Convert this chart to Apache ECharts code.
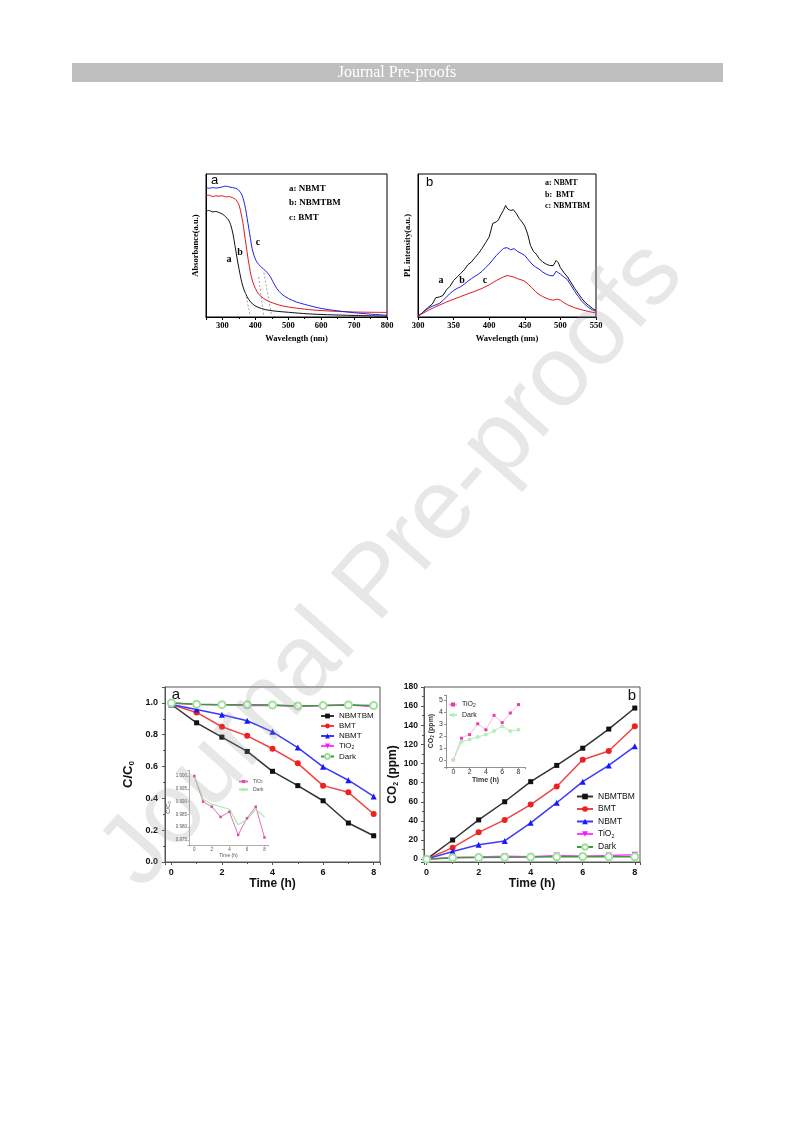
<!DOCTYPE html>
<html><head><meta charset="utf-8">
<script src="https://cdn.jsdelivr.net/npm/echarts@6/dist/echarts.min.js"></script>
<style>html,body{margin:0;padding:0;background:#fff;}#c{width:793px;height:1121px;}</style>
</head><body><div id="c"></div>
<script>
// ---------- DATA ----------
// (a) UV-vis absorbance, [wavelength nm, absorbance a.u.]
const absNBMT = [[250,0.74],[260,0.745],[270,0.735],[280,0.738],[290,0.73],[300,0.72],[310,0.70],[318,0.68],[325,0.645],[332,0.58],[338,0.50],[344,0.415],[350,0.34],[356,0.27],[362,0.215],[370,0.165],[380,0.122],[392,0.09],[406,0.07],[430,0.052],[457,0.042],[500,0.033],[560,0.022],[620,0.016],[700,0.011],[800,0.006]];
const absNBMTBM = [[250,0.848],[260,0.852],[270,0.842],[280,0.847],[290,0.845],[300,0.848],[310,0.84],[320,0.842],[330,0.835],[340,0.822],[347,0.80],[352,0.77],[357,0.72],[362,0.66],[367,0.58],[372,0.50],[377,0.42],[382,0.35],[387,0.29],[393,0.24],[400,0.2],[410,0.16],[425,0.13],[440,0.11],[470,0.085],[500,0.07],[550,0.055],[600,0.045],[700,0.035],[800,0.032]];
const absBMT = [[250,0.906],[260,0.9],[270,0.905],[280,0.902],[290,0.905],[300,0.91],[310,0.915],[320,0.91],[330,0.905],[340,0.9],[348,0.89],[355,0.87],[360,0.85],[365,0.81],[370,0.76],[375,0.69],[380,0.62],[385,0.55],[390,0.48],[396,0.43],[402,0.395],[410,0.368],[420,0.345],[430,0.325],[440,0.30],[447,0.275],[455,0.24],[465,0.2],[480,0.16],[500,0.13],[525,0.105],[550,0.088],[600,0.06],[650,0.043],[700,0.03],[750,0.02],[800,0.012]];
const edgeA = [[370,0.17],[385,0]];
const edgeB = [[410,0.28],[426,0]];
const edgeC = [[426,0.31],[450,0]];
// (b) PL spectra, [wavelength nm, intensity a.u.]
const plNBMT = [[300,0.005],[305,0.025],[310,0.048],[315,0.07],[320,0.09],[325,0.135],[330,0.14],[335,0.15],[340,0.19],[345,0.215],[350,0.255],[355,0.28],[360,0.305],[365,0.33],[370,0.365],[375,0.385],[380,0.415],[385,0.445],[390,0.48],[395,0.52],[400,0.56],[405,0.655],[410,0.665],[413,0.68],[417,0.72],[420,0.745],[423,0.78],[426,0.755],[430,0.745],[434,0.75],[438,0.725],[442,0.69],[446,0.665],[450,0.635],[454,0.58],[458,0.5],[462,0.46],[466,0.44],[470,0.41],[475,0.385],[480,0.37],[485,0.36],[490,0.36],[494,0.395],[497,0.38],[500,0.345],[505,0.31],[510,0.28],[515,0.24],[520,0.2],[525,0.165],[530,0.13],[535,0.1],[540,0.08],[545,0.06],[550,0.045]];
const plBMT = [[300,0.005],[305,0.025],[310,0.045],[315,0.062],[320,0.075],[325,0.085],[330,0.095],[335,0.115],[340,0.14],[345,0.165],[350,0.185],[355,0.2],[360,0.212],[365,0.23],[370,0.25],[375,0.268],[380,0.285],[385,0.3],[390,0.32],[395,0.345],[400,0.37],[405,0.4],[410,0.43],[415,0.455],[420,0.48],[425,0.485],[430,0.47],[435,0.478],[440,0.458],[445,0.445],[450,0.43],[455,0.4],[460,0.37],[465,0.35],[470,0.335],[475,0.315],[480,0.3],[485,0.29],[490,0.288],[494,0.32],[497,0.31],[500,0.3],[505,0.28],[510,0.26],[515,0.22],[520,0.18],[525,0.145],[530,0.11],[535,0.085],[540,0.065],[545,0.05],[550,0.04]];
const plNBMTBM = [[300,0.005],[305,0.02],[310,0.035],[315,0.048],[320,0.06],[325,0.072],[330,0.083],[340,0.105],[350,0.124],[360,0.143],[370,0.162],[380,0.18],[390,0.2],[400,0.225],[405,0.24],[410,0.255],[415,0.268],[420,0.28],[425,0.29],[430,0.285],[435,0.278],[440,0.268],[445,0.26],[450,0.25],[455,0.228],[460,0.205],[465,0.178],[470,0.158],[475,0.143],[480,0.132],[485,0.122],[490,0.118],[495,0.125],[500,0.118],[505,0.1],[510,0.085],[520,0.065],[530,0.05],[540,0.038],[550,0.028]];
// (c) C/C0 vs time
const hours = [0,1,2,3,4,5,6,7,8];
const ccNBMTBM = [0.99,0.875,0.785,0.695,0.57,0.48,0.385,0.245,0.165];
const ccBMT = [0.99,0.94,0.85,0.793,0.712,0.62,0.48,0.438,0.302];
const ccNBMT = [0.99,0.958,0.926,0.888,0.818,0.719,0.598,0.514,0.412];
const ccTiO2 = [1.0,0.990,0.988,0.984,0.986,0.977,0.9835,0.988,0.976];
const ccDark = [1.0,0.991,0.989,0.988,0.987,0.981,0.983,0.987,0.984];
// (d) CO2 (ppm) vs time
const co2NBMTBM = [0,20,41,60,81,98,116,136,158];
const co2BMT = [0,12,28,41,57,76,104,113,139];
const co2NBMT = [0,8,15,19,38,59,81,98,118];
const co2TiO2 = [0,1.8,2.1,3.0,2.5,3.7,3.1,3.9,4.6];
const co2Dark = [0,1.5,1.7,1.9,2.1,2.4,2.8,2.4,2.5];

// ---------- HELPERS ----------
const SANS = 'Liberation Sans, Arial, sans-serif';
const SERIF = 'Liberation Serif, Times New Roman, serif';
const zip = (xs, ys) => xs.map((x, i) => [x, ys[i]]);
const onStep = (step, dec) => v => (Math.abs(v / step - Math.round(v / step)) < 1e-6 ? (dec == null ? String(Math.round(v)) : v.toFixed(dec)) : '');
const legendName = n => { const b = n.split('_')[0]; return b === 'TiO2' ? 'TiO{s|2}' : b; };

function axis(o) {
  return {
    gridIndex: o.grid, type: 'value', min: o.min, max: o.max,
    minInterval: o.step, maxInterval: o.step,
    splitLine: { show: false },
    axisLine: { show: true, onZero: false, lineStyle: { color: o.lc || '#000', width: o.lw || 1 } },
    axisTick: { show: o.tick !== false, length: o.tl || 3, lineStyle: { color: o.lc || '#000', width: o.lw || 1 } },
    minorTick: { show: !!o.minor, splitNumber: 2, length: 2, lineStyle: { color: o.lc || '#000' } },
    axisLabel: { show: o.label !== false, formatter: o.fmt, fontSize: o.fs, fontWeight: o.fw || 'bold', fontFamily: o.ff || SANS, color: o.color || '#111', margin: o.margin == null ? 4 : o.margin },
    name: o.name, nameLocation: 'middle', nameGap: o.gap,
    nameTextStyle: { fontSize: o.nfs, fontWeight: o.nfw || 'bold', fontFamily: o.ff || SANS, color: o.color || '#111', rich: o.rich }
  };
}

const series = [];
function line(name, xi, yi, data, opt) {
  series.push(Object.assign({
    name: name, type: 'line', xAxisIndex: xi, yAxisIndex: yi, data: data,
    showSymbol: false, symbol: 'none', lineStyle: { width: 1 }, animation: false, z: 3
  }, opt));
}

// chart 1
line('absNBMT', 0, 0, absNBMT, { color: '#111', smooth: 0.3 });
line('absNBMTBM', 0, 0, absNBMTBM, { color: '#e01818', smooth: 0.3 });
line('absBMT', 0, 0, absBMT, { color: '#2020e8', smooth: 0.3 });
[edgeA, edgeB, edgeC].forEach((d, i) => line('edge' + i, 0, 0, d, { color: '#888', lineStyle: { width: 0.8, type: [2, 2] } }));
// chart 2
line('plNBMT', 1, 1, plNBMT, { color: '#111' });
line('plBMT', 1, 1, plBMT, { color: '#2020e8' });
line('plNBMTBM', 1, 1, plNBMTBM, { color: '#e01818' });

function kinetic(suffix, xi, yi, arrs, sz) {
  line('NBMTBM_' + suffix, xi, yi, zip(hours, arrs[0]), { showSymbol: true, symbol: 'rect', symbolSize: sz, color: '#111', lineStyle: { width: 1.5, color: '#333' } });
  line('BMT_' + suffix, xi, yi, zip(hours, arrs[1]), { showSymbol: true, symbol: 'circle', symbolSize: sz + 1, color: '#ee2020', lineStyle: { width: 1.5, color: '#ee4444' } });
  line('NBMT_' + suffix, xi, yi, zip(hours, arrs[2]), { showSymbol: true, symbol: 'triangle', symbolSize: sz + 1, color: '#1818ff', lineStyle: { width: 1.5, color: '#3a3aff' } });
  line('TiO2_' + suffix, xi, yi, zip(hours, arrs[3]), { showSymbol: true, symbol: 'triangle', symbolRotate: 180, symbolSize: sz + 1, color: '#ff10ff', lineStyle: { width: 1.5, color: '#ff40ff' } });
  line('Dark_' + suffix, xi, yi, zip(hours, arrs[4]), { showSymbol: true, symbol: 'emptyCircle', symbolSize: sz + 2, color: '#9fe09f', itemStyle: { borderWidth: 1 }, lineStyle: { width: 1.5, color: '#3c9a3c' } });
}
kinetic('3', 2, 2, [ccNBMTBM, ccBMT, ccNBMT, ccTiO2, ccDark], 5);
kinetic('4', 4, 4, [co2NBMTBM, co2BMT, co2NBMT, co2TiO2, co2Dark], 5);
// insets
line('TiO2_3i', 3, 3, zip(hours, ccTiO2), { showSymbol: true, symbol: 'rect', symbolSize: 2.5, color: '#e24aa6', lineStyle: { width: 1, color: '#e070b8' } });
line('Dark_3i', 3, 3, zip(hours, ccDark), { color: '#a6eaa6', lineStyle: { width: 1.2, color: '#a6eaa6' } });
line('TiO2_4i', 5, 5, zip(hours, co2TiO2), { showSymbol: true, symbol: 'rect', symbolSize: 3, color: '#ee3aa8', lineStyle: { width: 0.8, color: '#f6a8d6' } });
line('Dark_4i', 5, 5, zip(hours, co2Dark), { showSymbol: true, symbol: 'circle', symbolSize: 4, color: '#b6eeb6', lineStyle: { width: 1, color: '#b6eeb6' } });

const sub = (fs, pad) => ({ s: { fontSize: fs, fontWeight: 'bold', padding: [pad, 0, 0, 0] } });

const option = {
  animation: false,
  backgroundColor: '#fff',
  grid: [
    { left: 206, top: 174, width: 181, height: 143, show: true, borderColor: '#000', borderWidth: 1 },
    { left: 418, top: 174, width: 178, height: 143, show: true, borderColor: '#000', borderWidth: 1 },
    { left: 165, top: 687, width: 215, height: 175, show: true, borderColor: '#555', borderWidth: 1 },
    { left: 189, top: 770, width: 79, height: 75 },
    { left: 424, top: 687, width: 216, height: 175, show: true, borderColor: '#555', borderWidth: 1 },
    { left: 446, top: 695, width: 79, height: 72 }
  ],
  xAxis: [
    axis({ grid: 0, min: 250, max: 800, step: 100, minor: true, fmt: onStep(100), fs: 8.5, ff: SERIF, color: '#000', margin: 4, name: 'Wavelength (nm)', gap: 17, nfs: 8.5 }),
    axis({ grid: 1, min: 300, max: 550, step: 50, fmt: onStep(50), fs: 8.5, ff: SERIF, color: '#000', margin: 4, name: 'Wavelength (nm)', gap: 17, nfs: 8.5 }),
    axis({ grid: 2, min: -0.25, max: 8.25, step: 2, minor: true, lc: '#555', fmt: onStep(2), fs: 9, margin: 6, name: 'Time (h)', gap: 16, nfs: 12 }),
    axis({ grid: 3, min: -0.6, max: 8.4, step: 2, lc: '#999', lw: 0.8, tl: 1.5, fmt: onStep(2), fs: 4.5, fw: 'normal', color: '#555', margin: 2, name: 'Time (h)', gap: 7, nfs: 5, nfw: 'normal' }),
    axis({ grid: 4, min: -0.1, max: 8.2, step: 2, minor: true, lc: '#555', fmt: onStep(2), fs: 9, margin: 6, name: 'Time (h)', gap: 16, nfs: 12 }),
    axis({ grid: 5, min: -0.9, max: 8.8, step: 2, lc: '#777', lw: 0.8, tl: 2, fmt: onStep(2), fs: 7, fw: 'normal', color: '#333', margin: 2, name: 'Time (h)', gap: 9, nfs: 7, nfw: 'bold' })
  ],
  yAxis: [
    axis({ grid: 0, min: 0, max: 1, step: 0.2, tick: false, label: false, name: 'Absorbance(a.u.)', gap: 6, nfs: 8.5, ff: SERIF, color: '#000' }),
    axis({ grid: 1, min: 0, max: 1, step: 0.2, tick: false, label: false, name: 'PL intensity(a.u.)', gap: 6, nfs: 8.5, ff: SERIF, color: '#000' }),
    axis({ grid: 2, min: 0, max: 1.1, step: 0.2, minor: true, lc: '#555', fmt: onStep(0.2, 1), fs: 9, margin: 7, name: 'C/C{s|0}', gap: 29, nfs: 13, rich: sub(8, 8) }),
    axis({ grid: 3, min: 0.97305, max: 1.00234, step: 0.005, lc: '#999', lw: 0.8, tl: 1.5, fmt: onStep(0.005, 3), fs: 4.5, fw: 'normal', color: '#555', margin: 2, name: 'C/C{s|0}', gap: 13, nfs: 6, nfw: 'normal', rich: { s: { fontSize: 4, padding: [3, 0, 0, 0] } } }),
    axis({ grid: 4, min: -3, max: 180, step: 20, minor: true, lc: '#555', fmt: onStep(20), fs: 8.5, margin: 6, name: 'CO{s|2} (ppm)', gap: 20, nfs: 12, rich: sub(7, 7) }),
    axis({ grid: 5, min: -0.6, max: 5.4, step: 1, lc: '#777', lw: 0.8, tl: 2, fmt: onStep(1), fs: 7, fw: 'normal', color: '#333', margin: 3, name: 'CO{s|2} (ppm)', gap: 8, nfs: 7, nfw: 'bold', rich: { s: { fontSize: 4.5, padding: [4, 0, 0, 0] } } })
  ],
  legend: [
    { data: ['NBMTBM_3', 'BMT_3', 'NBMT_3', 'TiO2_3', 'Dark_3'], orient: 'vertical', left: 320, top: 712, padding: 0, itemWidth: 13, itemHeight: 6, itemGap: 2, formatter: legendName, selectedMode: false,
      textStyle: { fontSize: 8, fontFamily: SANS, color: '#111', rich: { s: { fontSize: 5, padding: [4, 0, 0, 0] } } } },
    { data: ['NBMTBM_4', 'BMT_4', 'NBMT_4', 'TiO2_4', 'Dark_4'], orient: 'vertical', left: 576, top: 792, padding: 0, itemWidth: 16, itemHeight: 7, itemGap: 3.5, formatter: legendName, selectedMode: false,
      textStyle: { fontSize: 8.5, fontFamily: SANS, color: '#111', rich: { s: { fontSize: 5.5, padding: [4, 0, 0, 0] } } } },
    { data: ['TiO2_3i', 'Dark_3i'], orient: 'vertical', left: 238, top: 779, padding: 0, itemWidth: 9, itemHeight: 4, itemGap: 2.5, formatter: legendName, selectedMode: false,
      textStyle: { fontSize: 5, fontFamily: SANS, color: '#555', rich: { s: { fontSize: 3.5, padding: [2, 0, 0, 0] } } } },
    { data: ['TiO2_4i', 'Dark_4i'], orient: 'vertical', left: 448, top: 701, padding: 0, itemWidth: 8, itemHeight: 5, itemGap: 3, formatter: legendName, selectedMode: false,
      textStyle: { fontSize: 7, fontFamily: SANS, color: '#222', rich: { s: { fontSize: 5, padding: [3, 0, 0, 0] } } } }
  ],
  series: series,
  graphic: { elements: [
    { type: 'rect', shape: { x: 72, y: 63, width: 651, height: 19 }, style: { fill: '#bfbfbf' }, z: 1 },
    { type: 'text', x: 397, y: 72.5, style: { text: 'Journal Pre-proofs', fontSize: 16, fontFamily: SERIF, fill: '#fff', align: 'center', verticalAlign: 'middle' }, z: 2 },
    // panel (a) texts
    { type: 'text', x: 211, y: 180, style: { text: 'a', fontSize: 13, fontFamily: SANS, fill: '#000', align: 'left', verticalAlign: 'middle' } },
    { type: 'text', x: 289, y: 189, style: { text: 'a: NBMT', fontSize: 9, fontWeight: 'bold', fontFamily: SERIF, fill: '#000', align: 'left', verticalAlign: 'middle' } },
    { type: 'text', x: 289, y: 203, style: { text: 'b: NBMTBM', fontSize: 9, fontWeight: 'bold', fontFamily: SERIF, fill: '#000', align: 'left', verticalAlign: 'middle' } },
    { type: 'text', x: 289, y: 218, style: { text: 'c: BMT', fontSize: 9, fontWeight: 'bold', fontFamily: SERIF, fill: '#000', align: 'left', verticalAlign: 'middle' } },
    { type: 'text', x: 229, y: 259, style: { text: 'a', fontSize: 10, fontWeight: 'bold', fontFamily: SERIF, fill: '#000', align: 'center', verticalAlign: 'middle' } },
    { type: 'text', x: 240, y: 252, style: { text: 'b', fontSize: 10, fontWeight: 'bold', fontFamily: SERIF, fill: '#000', align: 'center', verticalAlign: 'middle' } },
    { type: 'text', x: 258, y: 242, style: { text: 'c', fontSize: 10, fontWeight: 'bold', fontFamily: SERIF, fill: '#000', align: 'center', verticalAlign: 'middle' } },
    // panel (b) texts
    { type: 'text', x: 426, y: 182, style: { text: 'b', fontSize: 13, fontFamily: SANS, fill: '#000', align: 'left', verticalAlign: 'middle' } },
    { type: 'text', x: 545, y: 183, style: { text: 'a: NBMT', fontSize: 8, fontWeight: 'bold', fontFamily: SERIF, fill: '#000', align: 'left', verticalAlign: 'middle' } },
    { type: 'text', x: 545, y: 194.5, style: { text: 'b:  BMT', fontSize: 8, fontWeight: 'bold', fontFamily: SERIF, fill: '#000', align: 'left', verticalAlign: 'middle' } },
    { type: 'text', x: 545, y: 206, style: { text: 'c: NBMTBM', fontSize: 8, fontWeight: 'bold', fontFamily: SERIF, fill: '#000', align: 'left', verticalAlign: 'middle' } },
    { type: 'text', x: 441, y: 280, style: { text: 'a', fontSize: 10, fontWeight: 'bold', fontFamily: SERIF, fill: '#000', align: 'center', verticalAlign: 'middle' } },
    { type: 'text', x: 462, y: 280, style: { text: 'b', fontSize: 10, fontWeight: 'bold', fontFamily: SERIF, fill: '#000', align: 'center', verticalAlign: 'middle' } },
    { type: 'text', x: 485, y: 280, style: { text: 'c', fontSize: 10, fontWeight: 'bold', fontFamily: SERIF, fill: '#000', align: 'center', verticalAlign: 'middle' } },
    // panel labels bottom
    { type: 'text', x: 176, y: 695, style: { text: 'a', fontSize: 15, fontFamily: SANS, fill: '#111', align: 'center', verticalAlign: 'middle' } },
    { type: 'text', x: 632, y: 696, style: { text: 'b', fontSize: 15, fontFamily: SANS, fill: '#111', align: 'center', verticalAlign: 'middle' } },
    // watermark
    { type: 'text', x: 393, y: 565, rotation: 48.5 * Math.PI / 180, z: 100,
      style: { text: 'Journal Pre-proofs', fontSize: 100, fontFamily: SANS, fill: 'rgba(150,150,150,0.23)', align: 'center', verticalAlign: 'middle' } }
  ] }
};
const chart = echarts.init(document.getElementById('c'), null, { renderer: 'canvas' });
chart.setOption(option);
</script></body></html>
